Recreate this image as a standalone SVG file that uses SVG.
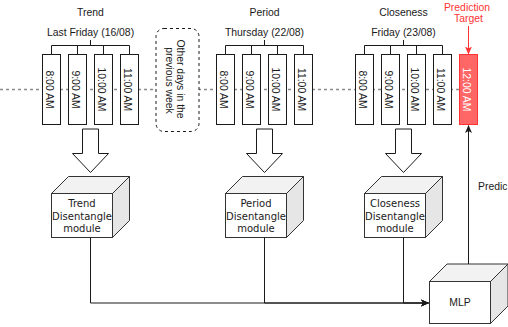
<svg xmlns="http://www.w3.org/2000/svg" width="508" height="327" viewBox="0 0 508 327">
  <defs>
    <style>
      .lbl { font-family: "Liberation Sans", Arial, sans-serif; font-size: 10.4px; fill: #1a1a1a; }
      .mid { text-anchor: middle; }
      .cubetxt { font-family: "DejaVu Sans", sans-serif; font-size: 10px; fill: #1a1a1a; text-anchor: middle; }
      .slot { fill: #ffffff; stroke: #1a1a1a; stroke-width: 1; }
      .bracket { fill: none; stroke: #1a1a1a; stroke-width: 1; }
      .timeline { fill: none; stroke: #8c8c8c; stroke-width: 1.6; stroke-dasharray: 3 3; }
      .bigarrow { fill: #ffffff; stroke: #1a1a1a; stroke-width: 1; }
      .front { fill: #ffffff; stroke: #333333; stroke-width: 1; }
      .top { fill: #f2f2f2; stroke: #333333; stroke-width: 1; stroke-linejoin: round; }
      .side { fill: #e6e6e6; stroke: #333333; stroke-width: 1; stroke-linejoin: round; }
      .edge { fill: none; stroke: #1a1a1a; stroke-width: 1; }
    </style>
    <marker id="arrowBlack" markerWidth="8" markerHeight="8" viewBox="0 0 8 8" refX="7.5" refY="4" orient="auto" markerUnits="userSpaceOnUse">
      <path d="M0,0.5 L8,4 L0,7.5 L2,4 Z" fill="#1a1a1a"/>
    </marker>
    <marker id="arrowRed" markerWidth="8" markerHeight="8" viewBox="0 0 8 8" refX="7.5" refY="4" orient="auto" markerUnits="userSpaceOnUse">
      <path d="M0,0.5 L8,4 L0,7.5 L2,4 Z" fill="#ff3333"/>
    </marker>
    <!-- a 61x44 cube with depth 17, front face starting at the origin -->
    <g id="cube">
      <path class="top" d="M0,0 L17,-17 L78,-17 L61,0 Z"/>
      <path class="side" d="M61,0 L78,-17 L78,27 L61,44 Z"/>
      <rect class="front" x="0" y="0" width="61" height="44"/>
    </g>
    <!-- hollow downward block arrow, centred on x=0 -->
    <path id="downArrow" class="bigarrow" d="M-8,0 L8,0 L8,24.5 L18,24.5 L0,43.5 L-18,24.5 L-8,24.5 Z"/>
  </defs>

  <!-- dotted time axis -->
  <line class="timeline" x1="0" y1="89.5" x2="459.5" y2="89.5"/>

  <!-- Trend: last Friday -->
  <g id="trend-slots">
    <text class="lbl mid" x="90.5" y="15.5">Trend</text>
    <text class="lbl mid" x="90.5" y="36">Last Friday (16/08)</text>
    <path class="bracket" d="M90.5,40 V45.5 M51.5,54.5 V45.5 H129.5 V54.5 M77.5,45.5 V54.5 M103.5,45.5 V54.5"/>
    <rect class="slot" x="42.5" y="54.5" width="18" height="70"/>
    <rect class="slot" x="68.5" y="54.5" width="18" height="70"/>
    <rect class="slot" x="94.5" y="54.5" width="18" height="70"/>
    <rect class="slot" x="120.5" y="54.5" width="18" height="70"/>
    <text class="lbl mid" transform="translate(51.5,89.5) rotate(90)" y="6">8:00 AM</text>
    <text class="lbl mid" transform="translate(77.5,89.5) rotate(90)" y="6">9:00 AM</text>
    <text class="lbl mid" transform="translate(103.5,89.5) rotate(90)" y="6">10:00 AM</text>
    <text class="lbl mid" transform="translate(129.5,89.5) rotate(90)" y="6">11:00 AM</text>
  </g>

  <!-- Other days -->
  <g id="other-days">
    <rect x="156" y="28.5" width="43" height="103" rx="8" ry="8" fill="#ffffff" stroke="#1a1a1a" stroke-width="1" stroke-dasharray="3 3"/>
    <text class="lbl mid" transform="translate(177.5,80.5) rotate(90)">
      <tspan x="0" y="1">Other days in the</tspan>
      <tspan x="0" y="12">previous week</tspan>
    </text>
  </g>

  <!-- Period: Thursday -->
  <g id="period-slots">
    <text class="lbl mid" x="264.5" y="15.5">Period</text>
    <text class="lbl mid" x="264.5" y="36">Thursday (22/08)</text>
    <path class="bracket" d="M264.5,40 V45.5 M225.5,54.5 V45.5 H303.5 V54.5 M251.5,45.5 V54.5 M277.5,45.5 V54.5"/>
    <rect class="slot" x="216.5" y="54.5" width="18" height="70"/>
    <rect class="slot" x="242.5" y="54.5" width="18" height="70"/>
    <rect class="slot" x="268.5" y="54.5" width="18" height="70"/>
    <rect class="slot" x="294.5" y="54.5" width="18" height="70"/>
    <text class="lbl mid" transform="translate(225.5,89.5) rotate(90)" y="6">8:00 AM</text>
    <text class="lbl mid" transform="translate(251.5,89.5) rotate(90)" y="6">9:00 AM</text>
    <text class="lbl mid" transform="translate(277.5,89.5) rotate(90)" y="6">10:00 AM</text>
    <text class="lbl mid" transform="translate(303.5,89.5) rotate(90)" y="6">11:00 AM</text>
  </g>

  <!-- Closeness: Friday -->
  <g id="closeness-slots">
    <text class="lbl mid" x="403.5" y="15.5">Closeness</text>
    <text class="lbl mid" x="403.5" y="36">Friday (23/08)</text>
    <path class="bracket" d="M403.5,40 V45.5 M364.5,54.5 V45.5 H442.5 V54.5 M390.5,45.5 V54.5 M416.5,45.5 V54.5"/>
    <rect class="slot" x="355.5" y="54.5" width="18" height="70"/>
    <rect class="slot" x="381.5" y="54.5" width="18" height="70"/>
    <rect class="slot" x="407.5" y="54.5" width="18" height="70"/>
    <rect class="slot" x="433.5" y="54.5" width="18" height="70"/>
    <text class="lbl mid" transform="translate(364.5,89.5) rotate(90)" y="6">8:00 AM</text>
    <text class="lbl mid" transform="translate(390.5,89.5) rotate(90)" y="6">9:00 AM</text>
    <text class="lbl mid" transform="translate(416.5,89.5) rotate(90)" y="6">10:00 AM</text>
    <text class="lbl mid" transform="translate(442.5,89.5) rotate(90)" y="6">11:00 AM</text>
  </g>

  <!-- Prediction target -->
  <g id="target">
    <text class="mid" font-family="Liberation Sans, Arial, sans-serif" font-size="10.4" fill="#ff3333">
      <tspan x="468.5" y="10.5">Prediction</tspan>
      <tspan x="468.5" y="22">Target</tspan>
    </text>
    <rect x="459.5" y="54.5" width="18" height="70" fill="#ff6666" stroke="#ff3333" stroke-width="1"/>
    <text class="mid" transform="translate(468.5,89.5) rotate(90)" y="6" font-family="Liberation Sans, Arial, sans-serif" font-size="10.4" fill="#ffffff">12:00 AM</text>
  </g>

  <!-- Block arrows into the modules -->
  <g id="feed-arrows">
    <use href="#downArrow" x="90.5" y="129"/>
    <use href="#downArrow" x="264.5" y="129"/>
    <use href="#downArrow" x="403.5" y="129"/>
  </g>

  <!-- Disentangle modules -->
  <g id="trend-module">
    <use href="#cube" x="51.5" y="193.5"/>
    <text class="cubetxt"><tspan x="82" y="207">Trend</tspan><tspan x="82" y="219.5">Disentangle</tspan><tspan x="82" y="232">module</tspan></text>
  </g>
  <g id="period-module">
    <use href="#cube" x="225.5" y="193.5"/>
    <text class="cubetxt"><tspan x="256" y="207">Period</tspan><tspan x="256" y="219.5">Disentangle</tspan><tspan x="256" y="232">module</tspan></text>
  </g>
  <g id="closeness-module">
    <use href="#cube" x="364.5" y="193.5"/>
    <text class="cubetxt"><tspan x="395" y="207">Closeness</tspan><tspan x="395" y="219.5">Disentangle</tspan><tspan x="395" y="232">module</tspan></text>
  </g>

  <!-- MLP -->
  <g id="mlp">
    <path class="top" d="M429.5,281.5 L447,264 L508,264 L490.5,281.5 Z"/>
    <path class="side" d="M490.5,281.5 L508,264 L508,306 L490.5,323.5 Z"/>
    <rect class="front" x="429.5" y="281.5" width="61" height="42"/>
    <text class="lbl mid" x="460" y="306" font-size="10">MLP</text>
  </g>

  <!-- Connectors -->
  <g id="connectors">
    <path class="edge" d="M90.5,237.5 V303 H428.5" marker-end="url(#arrowBlack)"/>
    <path class="edge" d="M264.5,237.5 V303 H428.5" marker-end="url(#arrowBlack)"/>
    <path class="edge" d="M403.5,237.5 V303 H428.5" marker-end="url(#arrowBlack)"/>
    <path class="edge" d="M468.5,264 V125.5" marker-end="url(#arrowBlack)"/>
    <path d="M468.5,26 V54" fill="none" stroke="#ff3333" stroke-width="1" marker-end="url(#arrowRed)"/>
    <text class="lbl" x="478" y="190">Predic</text>
  </g>
</svg>
